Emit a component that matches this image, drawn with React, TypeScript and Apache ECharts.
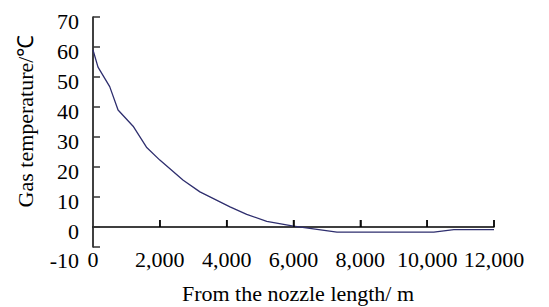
import React, { useEffect, useRef } from "react";
import * as echarts from "echarts";

const distances = [0, 150, 500, 750, 1200, 1600, 2000, 2700, 3200, 4100, 4600, 5200, 6000, 7300, 8000, 9000, 10200, 10800, 12000];
const temperatures = [59, 53.3, 46.8, 39, 33.6, 26.6, 22.3, 15.6, 11.7, 6.7, 4.2, 1.9, 0.3, -1.7, -1.7, -1.7, -1.7, -0.9, -0.9];
const yTickValues = [-20 / 3, 0, 10, 20, 30, 40, 50, 60, 70];
const xTickValues = [2000, 4000, 6000, 8000, 10000, 12000];
const xLabelValues = [0, 2000, 4000, 6000, 8000, 10000, 12000];
const xAxisTitle = "From the nozzle length/ m";
const yAxisTitle = "Gas temperature/℃";

const FONT = "Liberation Serif";

export default function App() {
  const ref = useRef<HTMLDivElement>(null);
  useEffect(() => {
    if (!ref.current) return;
    const chart = echarts.init(ref.current, undefined, { renderer: "svg" });
    chart.setOption({
      animation: false,
      backgroundColor: "#ffffff",
      textStyle: { fontFamily: FONT },
      grid: { left: 93, right: 55, top: 17, bottom: 60 },
      xAxis: [
        {
          type: "value",
          min: 0,
          max: 12000,
          axisLine: { show: false, onZero: false },
          axisTick: { show: false },
          axisLabel: {
            margin: 1,
            color: "#000",
            fontFamily: FONT,
            fontSize: 22,
            customValues: xLabelValues,
            formatter: (v: number) => v.toLocaleString("en-US"),
          },
          splitLine: { show: false },
        },
        {
          type: "value",
          min: 0,
          max: 12000,
          position: "bottom",
          offset: -20,
          axisLine: { show: true, onZero: false, lineStyle: { color: "#000", width: 1.5 } },
          axisTick: { show: false },
          axisLabel: { show: false },
          splitLine: { show: false },
        },
      ],
      yAxis: {
        type: "value",
        min: -20 / 3,
        max: 70,
        axisLine: { show: true, onZero: false, lineStyle: { color: "#000", width: 1.5 } },
        axisTick: {
          show: true,
          inside: true,
          length: 7,
          customValues: yTickValues,
          lineStyle: { color: "#333", width: 1.5 },
        },
        axisLabel: {
          margin: 14,
          color: "#000",
          fontFamily: FONT,
          fontSize: 22,
          padding: [8, 0, 0, 0],
          customValues: yTickValues,
          formatter: (v: number) => (v < -1 ? "{lo|-10}" : String(Math.round(v))),
          rich: {
            lo: { fontFamily: FONT, fontSize: 22, color: "#000", padding: [18, 0, 0, 0] },
          },
        },
        splitLine: { show: false },
      },
      series: [
        {
          type: "line",
          xAxisIndex: 0,
          data: distances.map((d, i) => [d, temperatures[i]]),
          showSymbol: false,
          lineStyle: { color: "#2e2e6e", width: 1.3 },
          z: 3,
          markLine: {
            silent: true,
            symbol: "none",
            label: { show: false },
            lineStyle: { color: "#000", width: 1.5, type: "solid" },
            data: xTickValues.map((v) => [{ coord: [v, 0] }, { coord: [v, 7 / 3] }]),
          },
        },
        {
          type: "scatter",
          xAxisIndex: 0,
          silent: true,
          data: xTickValues.map((v) => [v, 0]),
          symbol: "rect",
          symbolSize: [1.5, 7],
          symbolOffset: [0, -3.5],
          itemStyle: { color: "#000" },
          z: 2,
        },
      ],
      graphic: [
        {
          type: "text",
          x: 298,
          y: 293,
          style: {
            text: xAxisTitle,
            fill: "#000",
            fontFamily: FONT,
            fontSize: 22,
            align: "center",
            verticalAlign: "middle",
          },
        },
        {
          type: "text",
          x: 25,
          y: 121,
          rotation: Math.PI / 2,
          style: {
            text: yAxisTitle,
            fill: "#000",
            fontFamily: FONT,
            fontSize: 22,
            align: "center",
            verticalAlign: "middle",
          },
        },
      ],
    });
    return () => chart.dispose();
  }, []);
  return <div ref={ref} style={{ width: 549, height: 307, position: "absolute", left: 0, top: 0 }} />;
}
